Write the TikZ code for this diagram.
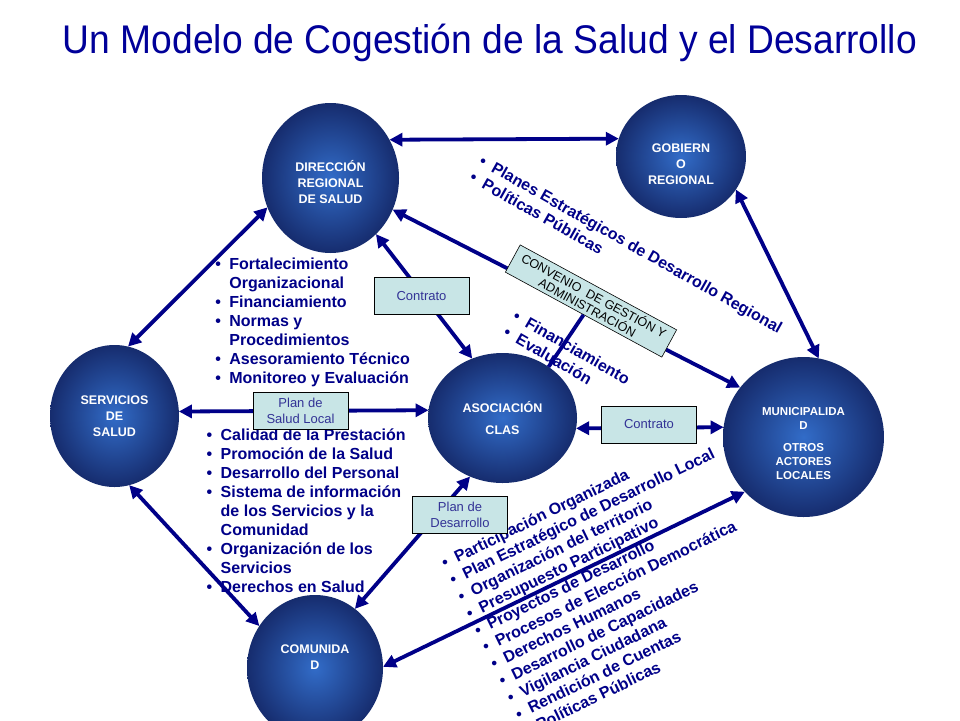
\documentclass[tikz,border=0pt]{standalone}
\usepackage{fontspec}
\setmainfont{Liberation Sans}
\usepackage{graphicx}
\usepackage{xcolor}
\usepackage{tikz}
\usetikzlibrary{shapes.geometric}
\usetikzlibrary{arrows.meta}
\tikzset{>={Triangle[length=13pt,width=13pt]}}
\definecolor{navyink}{RGB}{0,0,136}
\definecolor{titleblue}{RGB}{0,0,153}
\definecolor{orbin}{RGB}{50,108,200}
\definecolor{orbout}{RGB}{22,44,110}
\definecolor{boxfill}{RGB}{200,229,230}
\definecolor{boxink}{RGB}{51,51,150}
\newcommand{\itm}{\makebox[14pt][l]{•}}

\begin{document}
\begin{tikzpicture}[x=1pt,y=-1pt,
  orb/.style={ellipse,inner sep=0pt,outer sep=0pt,inner color=orbin,outer color=orbout,text=white,align=center,font=\bfseries\fontsize{12.5}{16}\selectfont},
  link/.style={<->,navyink,line width=3.8pt},
  tag/.style={draw=black,line width=0.6pt,fill=boxfill,text=boxink,align=center,minimum width=95pt,minimum height=37pt,inner sep=1pt,font=\fontsize{13}{16}\selectfont},
  items/.style={text=navyink,inner sep=0pt,anchor=base west,font=\bfseries\fontsize{16}{19}\selectfont}]
\useasboundingbox (0,0) rectangle (960,720);
\clip (0,0) rectangle (960,720);
\node[text=titleblue,font=\fontsize{40}{48}\selectfont,anchor=base] (title) at (490,53) {\scalebox{0.93}[1]{Un Modelo de Cogestión de la Salud y el Desarrollo}};
% actors
\node[orb,minimum width=137pt,minimum height=150pt] (dir) at (330.5,178) {\rule{0pt}{19pt}DIRECCIÓN\\REGIONAL\\DE SALUD};
\node[orb,minimum width=130pt,minimum height=123pt] (gob) at (681,156.5) {\rule{0pt}{25pt}GOBIERN\\O\\REGIONAL};
\node[orb,minimum width=129pt,minimum height=142pt] (ser) at (114.5,416) {SERVICIOS\\DE\\SALUD};
\node[orb,minimum width=149pt,minimum height=130pt] (aso) at (502.5,418) {ASOCIACIÓN\\[6pt]CLAS};
\node[orb,minimum width=161pt,minimum height=160pt,font=\bfseries\fontsize{11.5}{14}\selectfont] (mun) at (803.5,437) {\rule{0pt}{22pt}MUNICIPALIDA\\D\\[8pt]OTROS\\ACTORES\\LOCALES};
\node[orb,minimum width=136pt,minimum height=146pt] (com) at (315,668) {COMUNIDA\\D\rule[-22pt]{0pt}{22pt}};
% lists
\node[items] (support) at (215.2,269) {\begin{tabular}[t]{@{}l@{}l@{}}
\itm & Fortalecimiento\\ & Organizacional\\ \itm & Financiamiento\\ \itm & Normas y\\ & Procedimientos\\ \itm & Asesoramiento Técnico\\ \itm & Monitoreo y Evaluación
\end{tabular}};
\node[items] (care) at (206.5,440) {\begin{tabular}[t]{@{}l@{}l@{}}
\itm & Calidad de la Prestación\\ \itm & Promoción de la Salud\\ \itm & Desarrollo del Personal\\ \itm & Sistema de información\\ & de los Servicios y la\\ & Comunidad\\ \itm & Organización de los\\ & Servicios\\ \itm & Derechos en Salud
\end{tabular}};
\node[items,rotate=-29.5] (plans) at (477.9,164.3) {\begin{tabular}[t]{@{}l@{}l@{}}
\itm & Planes Estratégicos de Desarrollo Regional\\ \itm & Políticas Públicas
\end{tabular}};
\node[items,rotate=-30] (funds) at (511.8,319.2) {\begin{tabular}[t]{@{}l@{}l@{}}
\itm & Financiamiento\\ \itm & Evaluación
\end{tabular}};
\node[items,rotate=26,font=\bfseries\fontsize{16}{18.7}\selectfont] (local) at (444.8,568.9) {\begin{tabular}[t]{@{}l@{}l@{}}
\itm & Participación Organizada\\ \itm & Plan Estratégico de Desarrollo Local\\ \itm & Organización del territorio\\ \itm & Presupuesto Participativo\\ \itm & Proyectos de Desarrollo\\ \itm & Procesos de Elección Democrática\\ \itm & Derechos Humanos\\ \itm & Desarrollo de Capacidades\\ \itm & Vigilancia Ciudadana\\ \itm & Rendición de Cuentas\\ \itm & Políticas Públicas
\end{tabular}};
% connectors
\draw[link] (dir.33.5) -- (gob.164.4);
\draw[link] (dir.205.1) -- (ser.79.5);
\draw[link] (ser.282.3) -- (com.143.3);
\draw[link] (dir.309.5) -- (aso.117.3);
\draw[link] (ser.4.4) -- (aso.174.6);
\draw[link] (aso.352.4) -- (mun.173.7);
\draw[link] (aso.241.5) -- (com.56.5);
\draw[link] (mun.223.2) -- (com.1.7);
\draw[link] (gob.329.6) -- (mun.79.7);
\draw[link] (dir.333.9) -- (mun.142.2);
% agreements
\node[tag,rotate=-28.5,minimum width=178pt,minimum height=31pt,text=black,font=\fontsize{12.5}{13.5}\selectfont] (conv) at (591,301) {CONVENIO\ \ DE GESTIÓN Y\\ADMINISTRACIÓN};
\draw[navyink,line width=3.8pt] (conv.south) -- (aso.48.2);
\node[tag] (pact) at (421.5,296) {Contrato};
\node[tag] (plansal) at (300.5,410.5) {Plan de\\Salud Local};
\node[tag] (pactmun) at (649,424.5) {Contrato};
\node[tag] (plandes) at (460,515) {Plan de\\Desarrollo};
\end{tikzpicture}
\end{document}
